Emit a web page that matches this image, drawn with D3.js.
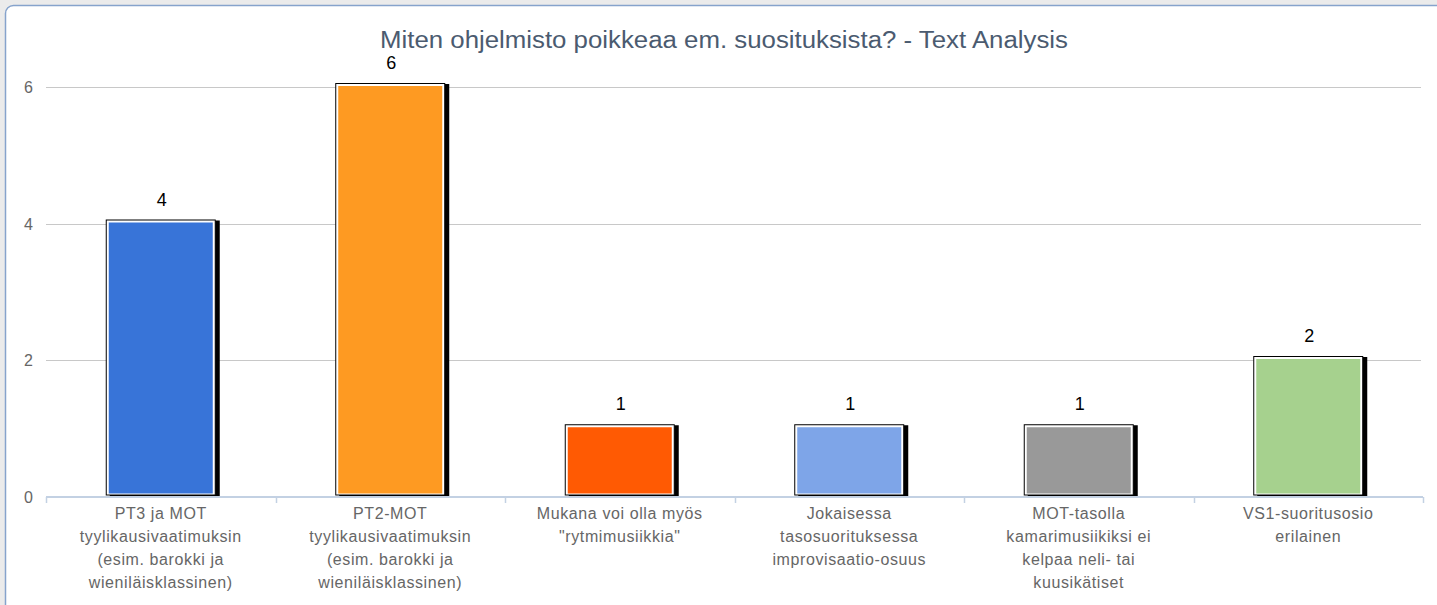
<!DOCTYPE html>
<html>
<head>
<meta charset="utf-8">
<script src="https://cdn.jsdelivr.net/npm/d3@7"></script>
<style>
  body { margin: 0; background: #ebebeb; font-family: "Liberation Sans", Arial, sans-serif; }
</style>
</head>
<body>
<div id="chart-area"></div>
<script>
// data
var categories = [
    ["PT3 ja MOT", "tyylikausivaatimuksin", "(esim. barokki ja", "wieniläisklassinen)"],
    ["PT2-MOT", "tyylikausivaatimuksin", "(esim. barokki ja", "wieniläisklassinen)"],
    ["Mukana voi olla myös", "\"rytmimusiikkia\""],
    ["Jokaisessa", "tasosuorituksessa", "improvisaatio-osuus"],
    ["MOT-tasolla", "kamarimusiikiksi ei", "kelpaa neli- tai", "kuusikätiset"],
    ["VS1-suoritusosio", "erilainen"]
];
var values = [4, 6, 1, 1, 1, 2];
var colors = ["#3874d8", "#fe9a22", "#ff5a03", "#7ea5e8", "#999999", "#a6d18e"];
var yTicks = [0, 2, 4, 6];
var title = "Miten ohjelmisto poikkeaa em. suosituksista? - Text Analysis";

var W = 1437, H = 605;
var svg = d3.select("#chart-area").append("svg")
    .attr("width", W)
    .attr("height", H)
    .style("display", "block");

// panel
svg.append("rect")
    .attr("x", 5.5).attr("y", 5.5)
    .attr("width", W + 20).attr("height", H + 20)
    .attr("rx", 8)
    .attr("fill", "#fff")
    .attr("stroke", "#86a3cc")
    .attr("stroke-width", 1.5);

svg.append("text")
    .attr("x", 724).attr("y", 48)
    .attr("text-anchor", "middle")
    .attr("fill", "#4b5b70")
    .style("font-size", "23px")
    .attr("textLength", 688)
    .attr("lengthAdjust", "spacingAndGlyphs")
    .text(title);

var x = d3.scaleBand()
    .domain(d3.range(categories.length))
    .range([46, 1423])
    .paddingInner(0)
    .paddingOuter(0);

var y = d3.scaleLinear()
    .domain([0, 6])
    .range([496.5, 87]);

// grid
svg.append("g")
    .selectAll("line")
    .data(yTicks.filter(d => d > 0))
    .join("line")
    .attr("x1", 46).attr("x2", 1421)
    .attr("y1", d => Math.round(y(d)) + 0.5)
    .attr("y2", d => Math.round(y(d)) + 0.5)
    .attr("stroke", "#c8c8c8")
    .attr("stroke-width", 1);

svg.append("g")
    .selectAll("text")
    .data(yTicks)
    .join("text")
    .attr("x", 33)
    .attr("y", d => y(d) + 6)
    .attr("text-anchor", "end")
    .attr("fill", "#666")
    .style("font-size", "16px")
    .text(d => d);

// bars
var barW = 110;
var bars = svg.append("g").selectAll("g")
    .data(values)
    .join("g")
    .attr("transform", (d, i) => "translate(" + (x(i) + x.bandwidth() / 2 - barW / 2) + ",0)");

bars.append("rect")
    .attr("x", 4).attr("y", d => y(d) - 3)
    .attr("width", barW).attr("height", d => y(0) - y(d) + 3)
    .attr("fill", "#000");

bars.append("rect")
    .attr("x", 0.5).attr("y", d => y(d) - 3.5)
    .attr("width", barW - 1).attr("height", d => y(0) - y(d) + 2)
    .attr("fill", "#fff")
    .attr("stroke", "#000")
    .attr("stroke-width", 1);

bars.append("rect")
    .attr("x", 3).attr("y", d => y(d) - 1)
    .attr("width", barW - 6).attr("height", d => y(0) - y(d) - 2)
    .attr("fill", (d, i) => colors[i]);

bars.append("text")
    .attr("x", barW / 2 + 1)
    .attr("y", d => y(d) - 18)
    .attr("text-anchor", "middle")
    .attr("fill", "#000")
    .style("font-size", "18px")
    .text(d => d);

// x axis
var ax = svg.append("g");
ax.append("line")
    .attr("x1", 46).attr("x2", 1423)
    .attr("y1", 497).attr("y2", 497)
    .attr("stroke", "#c3d1e3")
    .attr("stroke-width", 2);
ax.selectAll("line.tick")
    .data(d3.range(categories.length + 1))
    .join("line")
    .attr("class", "tick")
    .attr("x1", d => Math.round(46 + d * x.bandwidth()) + 0.5)
    .attr("x2", d => Math.round(46 + d * x.bandwidth()) + 0.5)
    .attr("y1", 497).attr("y2", 503)
    .attr("stroke", "#c3d1e3")
    .attr("stroke-width", 1.5);

var labels = svg.append("g").selectAll("text")
    .data(categories)
    .join("text")
    .attr("x", (d, i) => x(i) + x.bandwidth() / 2)
    .attr("y", 519)
    .attr("text-anchor", "middle")
    .attr("fill", "#666")
    .style("font-size", "16px")
    .style("letter-spacing", "0.6px");

labels.selectAll("tspan")
    .data(d => d)
    .join("tspan")
    .attr("x", function () { return d3.select(this.parentNode).attr("x"); })
    .attr("dy", (d, i) => i == 0 ? 0 : 23)
    .text(d => d);
</script>
</body>
</html>
